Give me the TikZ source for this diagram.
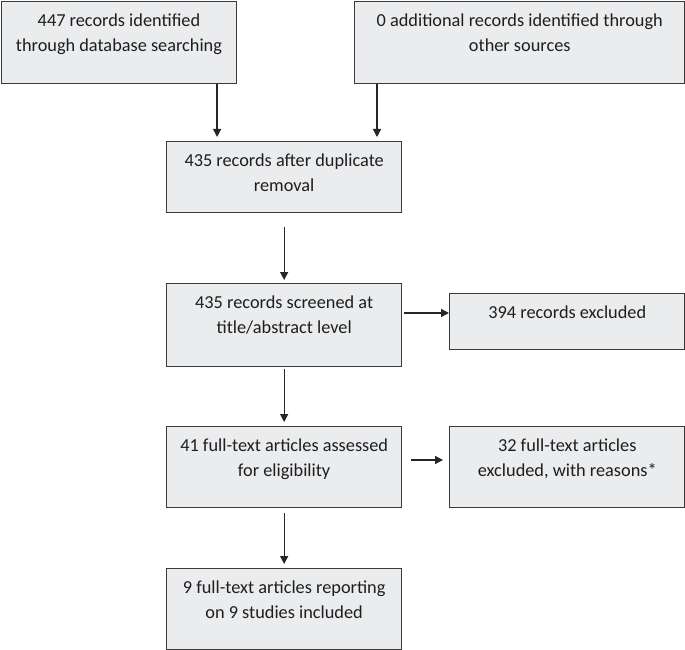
\documentclass[tikz,border=0pt]{standalone}
\usepackage{fontspec}
\setmainfont{Carlito}
\usetikzlibrary{arrows.meta,calc}
\definecolor{boxfill}{HTML}{EBECEE}
\definecolor{boxline}{HTML}{3A3A3A}
\definecolor{txtcol}{HTML}{1E1E1E}
\newcommand{\flowtext}[3]{\parbox[t][#2pt][t]{#1pt}{\centering\fontsize{18.3}{25}\selectfont\rule{0pt}{25pt}#3\par}}
\begin{document}
\begin{tikzpicture}[x=1pt,y=-1pt,
  box/.style={draw=boxline, fill=boxfill, line width=1.3pt, inner sep=0pt, anchor=north west, text=txtcol},
  arr/.style={draw=black!85, line width=1.3pt, -{Triangle[width=8pt,length=8pt]}}]
\useasboundingbox (0,0) rectangle (685,650);
\node[box] (b1) at (0.8,0.8) {\flowtext{235}{82}{447 records identified\\through database searching}};
\node[box] (b2) at (354,0.8) {\flowtext{330.2}{82}{0 additional records identified through\\other sources}};
\node[box] (b3) at (166,141) {\flowtext{235}{71}{435 records after duplicate\\removal}};
\node[box] (b4) at (166,283) {\flowtext{235}{83}{435 records screened at\\title/abstract level}};
\node[box] (b5) at (449,293) {\flowtext{235.2}{56}{394 records excluded}};
\node[box] (b6) at (166,426) {\flowtext{235}{81}{41 full-text articles assessed\\for eligibility}};
\node[box] (b7) at (449,426) {\flowtext{235.2}{81}{32 full-text articles\\excluded, with reasons*}};
\node[box] (b8) at (166,568) {\flowtext{235}{81}{9 full-text articles reporting\\on 9 studies included}};
% arrows
\coordinate (a1) at ($(b1.south east)+(-20,0)$);
\draw[arr, shorten >=4pt] (a1) -- (a1 |- b3.north);
\coordinate (a2) at ($(b2.south west)+(23,0)$);
\draw[arr, shorten >=4pt] (a2) -- (a2 |- b3.north);
\draw[arr, shorten <=14pt, shorten >=3pt] (b3.south) -- (b4.north);
\draw[arr, shorten <=2pt, shorten >=4pt] (b4.south) -- (b6.north);
\draw[arr, shorten <=5pt, shorten >=4pt] (b6.south) -- (b8.north);
\coordinate (h1) at ($(b4.north east)+(0,30)$);
\draw[arr, shorten <=2pt] (h1) -- (h1 -| b5.west);
\coordinate (h2) at ($(b6.north east)+(0,34)$);
\draw[arr, shorten <=9pt, shorten >=6pt] (h2) -- (h2 -| b7.west);
\end{tikzpicture}
\end{document}
